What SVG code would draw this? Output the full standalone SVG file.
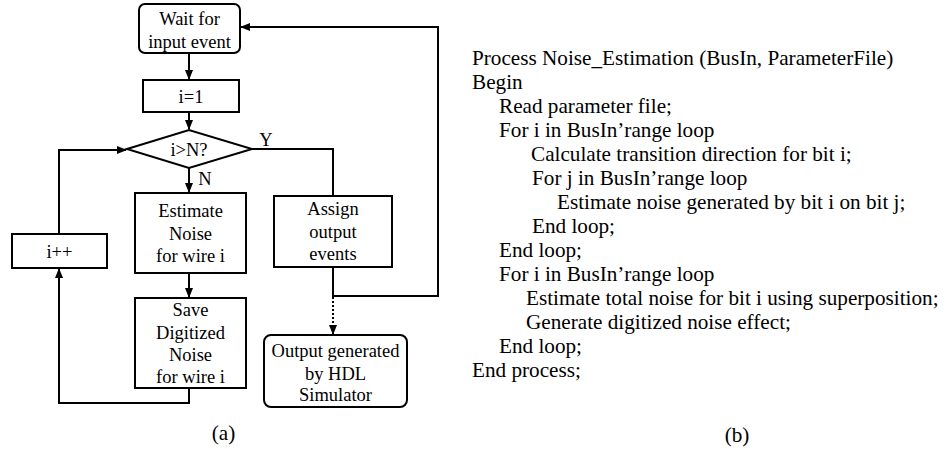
<svg xmlns="http://www.w3.org/2000/svg" width="945" height="449" viewBox="0 0 945 449">
<style>
.box{fill:#fff;stroke:#000;stroke-width:2}
.ln{fill:none;stroke:#000;stroke-width:2}
.t{font-family:"Liberation Serif","Times New Roman",serif;font-size:18.5px;fill:#000;text-anchor:middle}
.c{font-family:"Liberation Serif","Times New Roman",serif;font-size:21.2px;fill:#000}
.cap{font-family:"Liberation Serif","Times New Roman",serif;font-size:21.2px;fill:#000;text-anchor:middle}
</style>
<defs>
<marker id="ah" markerWidth="10" markerHeight="10" refX="9" refY="5" orient="auto" markerUnits="userSpaceOnUse">
<path d="M0,1 L10,5 L0,9 Z" fill="#000"/>
</marker>
</defs>
<rect width="945" height="449" fill="#fff"/>
<g id="connectors">
<path class="ln" d="M189,53 V79" marker-end="url(#ah)"/>
<path class="ln" d="M189,112 V129" marker-end="url(#ah)"/>
<path class="ln" d="M189,168 V192" marker-end="url(#ah)"/>
<path class="ln" d="M252,149 H333 V196"/>
<path class="ln" d="M189,273 V297" marker-end="url(#ah)"/>
<path class="ln" d="M189,388 V403 H59 V269" marker-end="url(#ah)"/>
<path class="ln" d="M59,234 V150 H126" marker-end="url(#ah)"/>
<path class="ln" d="M333,267 V296 H438 V27 H241" marker-end="url(#ah)"/>
<path class="ln" d="M333,297 V334" stroke-dasharray="2,2" marker-end="url(#ah)"/>
<text class="t" x="266" y="146">Y</text>
<text class="t" x="205" y="185">N</text>
</g>
<g id="wait">
<rect class="box" x="139" y="4" width="101" height="49" rx="6"/>
<text class="t" x="189.5" y="25">Wait for</text>
<text class="t" x="189.5" y="48">input event</text>
</g>
<g id="init">
<rect class="box" x="143" y="80" width="96" height="32"/>
<text class="t" x="191" y="103">i=1</text>
</g>
<g id="decision">
<path class="box" d="M127,149 L189,130 L252,149 L189,168 Z"/>
<text class="t" x="189" y="156">i&gt;N?</text>
</g>
<g id="estimate">
<rect class="box" x="135" y="193" width="111" height="80"/>
<text class="t" x="190.5" y="217">Estimate</text>
<text class="t" x="190.5" y="240">Noise</text>
<text class="t" x="190.5" y="262">for wire i</text>
</g>
<g id="save">
<rect class="box" x="135" y="298" width="111" height="90"/>
<text class="t" x="190.5" y="316">Save</text>
<text class="t" x="190.5" y="339">Digitized</text>
<text class="t" x="190.5" y="361">Noise</text>
<text class="t" x="190.5" y="383">for wire i</text>
</g>
<g id="inc">
<rect class="box" x="12" y="234" width="95" height="34"/>
<text class="t" x="59.5" y="258">i++</text>
</g>
<g id="assign">
<rect class="box" x="274" y="196" width="118" height="71"/>
<text class="t" x="333" y="215">Assign</text>
<text class="t" x="333" y="238">output</text>
<text class="t" x="333" y="260">events</text>
</g>
<g id="output">
<rect class="box" x="264" y="335" width="143" height="72" rx="7"/>
<text class="t" x="335.5" y="357">Output generated</text>
<text class="t" x="335.5" y="380">by HDL</text>
<text class="t" x="335.5" y="401">Simulator</text>
</g>
<text class="cap" x="223.5" y="440">(a)</text>
<g id="code">
<text class="c" x="472" y="65">Process Noise_Estimation (BusIn, ParameterFile)</text>
<text class="c" x="472" y="89">Begin</text>
<text class="c" x="499" y="113">Read parameter file;</text>
<text class="c" x="499" y="137">For i in BusIn’range loop</text>
<text class="c" x="531" y="161">Calculate transition direction for bit i;</text>
<text class="c" x="532" y="185">For j in BusIn’range loop</text>
<text class="c" x="557" y="209">Estimate noise generated by bit i on bit j;</text>
<text class="c" x="532" y="233">End loop;</text>
<text class="c" x="499" y="257">End loop;</text>
<text class="c" x="499" y="281">For i in BusIn’range loop</text>
<text class="c" x="526" y="305">Estimate total noise for bit i using superposition;</text>
<text class="c" x="526" y="329">Generate digitized noise effect;</text>
<text class="c" x="499" y="353">End loop;</text>
<text class="c" x="472" y="377">End process;</text>
</g>
<text class="cap" x="737" y="442">(b)</text>
</svg>
